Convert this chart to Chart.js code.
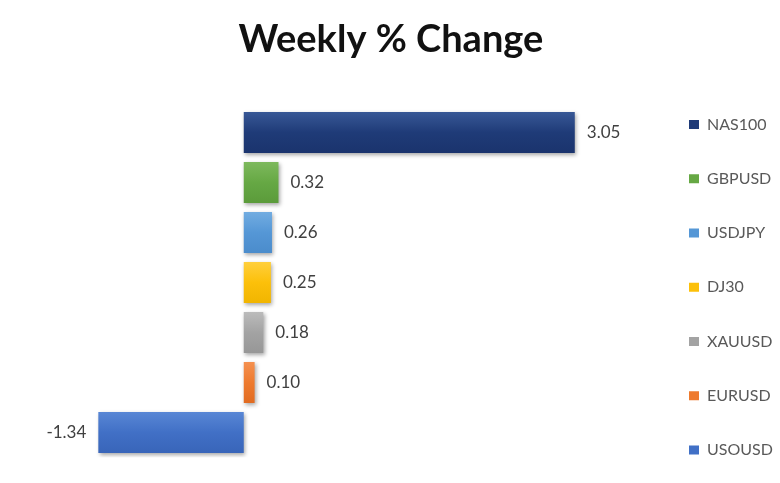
<!DOCTYPE html>
<html>
<head>
<meta charset="utf-8">
<script src="https://cdn.jsdelivr.net/npm/chart.js@4/dist/chart.umd.min.js"></script>
<style>
  html, body { margin: 0; padding: 0; background: #ffffff; }
  #wrap { width: 780px; height: 483px; }
</style>
</head>
<body>
<div id="wrap"><canvas id="c" width="780" height="483"></canvas></div>
<script>
const categories = ['NAS100', 'GBPUSD', 'USDJPY', 'DJ30', 'XAUUSD', 'EURUSD', 'USOUSD'];
const values = [3.05, 0.32, 0.26, 0.25, 0.18, 0.10, -1.34];
const baseColors = ['#1f3b78', '#66a844', '#5597d6', '#fcc00a', '#a3a3a3', '#ee7a2e', '#4170c6'];
const topColors = ['#3a5a98', '#7fba5e', '#74aee2', '#ffd040', '#bdbdbd', '#f59252', '#5a88d6'];
const bottomColors = ['#1a336c', '#5a9a3a', '#4a8bcb', '#f0b400', '#969696', '#e06a20', '#3864b8'];
const titleText = 'Weekly % Change';

function barGradient(ctx) {
  const chart = ctx.chart;
  const i = ctx.dataIndex;
  if (i === undefined || !chart.chartArea) return baseColors[i || 0];
  const y = chart.scales.y.getPixelForValue(i);
  const half = 22;
  const g = chart.ctx.createLinearGradient(0, y - half, 0, y + half);
  g.addColorStop(0, topColors[i]);
  g.addColorStop(0.5, baseColors[i]);
  g.addColorStop(1, bottomColors[i]);
  return g;
}

const shadowPlugin = {
  id: 'barShadow',
  beforeDatasetDraw(chart) {
    const c = chart.ctx;
    c.save();
    c.shadowColor = 'rgba(0,0,0,0.35)';
    c.shadowBlur = 4;
    c.shadowOffsetX = 1.5;
    c.shadowOffsetY = 2;
  },
  afterDatasetDraw(chart) {
    chart.ctx.restore();
  }
};

const valueLabels = {
  id: 'valueLabels',
  afterDatasetsDraw(chart) {
    const c = chart.ctx;
    const meta = chart.getDatasetMeta(0);
    c.save();
    c.font = '17px Lato';
    c.fillStyle = '#404040';
    c.textBaseline = 'middle';
    meta.data.forEach((bar, i) => {
      const v = values[i];
      const txt = v.toFixed(2);
      if (v >= 0) {
        c.textAlign = 'left';
        c.fillText(txt, bar.x + 12, bar.y);
      } else {
        c.textAlign = 'right';
        c.fillText(txt, bar.x - 12, bar.y);
      }
    });
    c.restore();
  }
};

new Chart(document.getElementById('c'), {
  type: 'bar',
  data: {
    labels: categories,
    datasets: [{
      data: values,
      backgroundColor: barGradient,
      borderWidth: 0,
      barPercentage: 0.82,
      categoryPercentage: 1.0
    }]
  },
  options: {
    indexAxis: 'y',
    responsive: false,
    animation: false,
    devicePixelRatio: 1,
    layout: { padding: { left: 5, right: 3.25, top: 0, bottom: -20 } },
    scales: {
      x: {
        display: true,
        min: -2.2,
        max: 3.75,
        grid: { display: false },
        border: { display: false },
        ticks: { display: false },
        afterFit(scale) { scale.height = 45.5; }
      },
      y: { display: false }
    },
    plugins: {
      tooltip: { enabled: false },
      title: {
        display: true,
        text: titleText,
        color: '#111111',
        font: { family: 'Lato', size: 38, weight: 'bold', lineHeight: 1.2 },
        padding: { top: 16.9, bottom: 45 }
      },
      legend: {
        display: true,
        position: 'right',
        align: 'start',
        fullSize: true,
        maxWidth: 126,
        title: { display: true, text: '', font: { size: 10, lineHeight: 1 }, padding: { top: 34.125, bottom: 34.125 } },
        labels: {
          boxWidth: 10,
          boxHeight: 9,
          padding: 38.25,
          color: '#595959',
          font: { family: 'Lato', size: 16 },
          generateLabels: () => categories.map((name, i) => ({
            text: name,
            fillStyle: baseColors[i],
            strokeStyle: baseColors[i],
            lineWidth: 0,
            hidden: false,
            index: i,
            fontColor: '#595959'
          }))
        }
      }
    }
  },
  plugins: [shadowPlugin, valueLabels]
});
</script>
</body>
</html>
